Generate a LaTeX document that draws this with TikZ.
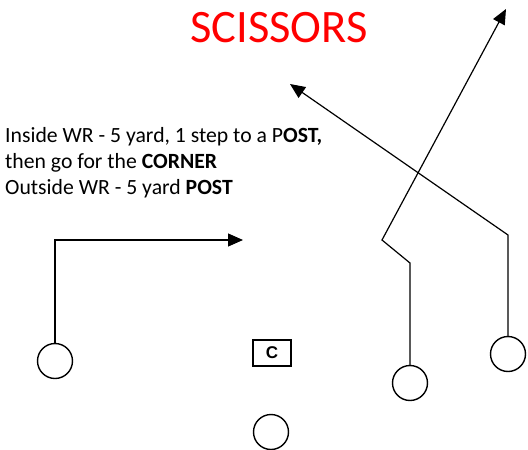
\documentclass[tikz,border=0pt]{standalone}
\usepackage{fontspec}
\setmainfont{Carlito}
\newfontfamily\boxfont{Liberation Sans}
\usetikzlibrary{arrows.meta}
\begin{document}
\begin{tikzpicture}[x=1pt,y=-1pt,
  player/.style={draw,circle,line width=1.4pt,minimum size=35pt,inner sep=0pt},
  center/.style={draw,rectangle,line width=2pt,minimum width=38pt,minimum height=26pt,inner sep=0pt,font=\boxfont\bfseries\fontsize{17}{17}\selectfont},
  route/.style={line width=1.2pt,-{Triangle[length=15pt,width=13pt]}},
  note/.style={anchor=base west,inner sep=0pt,font=\fontsize{21.7}{24}\selectfont}]
\useasboundingbox (0,0) rectangle (528,450);
% title
\node[text=red,font=\fontsize{46.5}{46.5}\selectfont,anchor=base] (title) at (279,42) {SCISSORS};
% description
\node[note] (l1) at (5,142) {Inside WR - 5 yard, 1 step to a P\textbf{OST,}};
\node[note] (l2) at (5,168) {then go for the \textbf{CORNER}};
\node[note] (l3) at (5,194) {Outside WR - 5 yard \textbf{POST}};
% players
\node[player] (wl) at (55,361) {};
\node[center] (c) at (272,353) {C};
\node[player] (qb) at (271,432) {};
\node[player] (wi) at (410,383) {};
\node[player] (wo) at (508,354) {};
% route end points
\coordinate (wlc) at (55,240);
\coordinate (wle) at (243,240);
\coordinate (wia) at (410,263);
\coordinate (wib) at (382,240);
\coordinate (wie) at (506,9);
\coordinate (woa) at (508,235);
\coordinate (woe) at (290,84);
% routes
\draw[route] (wl.north) -- (wlc) -- (wle);
\draw[route] (wi.north) -- (wia) -- (wib) -- (wie);
\draw[route] (wo.north) -- (woa) -- (woe);
\end{tikzpicture}
\end{document}
